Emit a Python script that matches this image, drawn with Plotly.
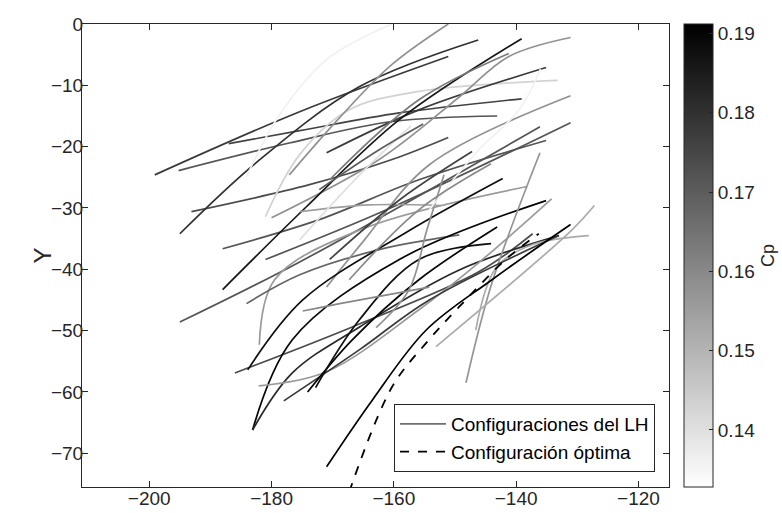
import plotly.graph_objects as go

# ---- data ----
curve_x = [
    [-199.1, -175.4, -151.1],
    [-195.2, -177.1, -160.3, -143.1],
    [-187.0, -175.4, -159.1, -139.1],
    [-193.1, -173.8, -160.3, -151.1],
    [-195.0, -182.5, -165.6, -146.2],
    [-184.1, -178.7, -171.0, -160.3],
    [-181.0, -175.4, -167.3, -155.9, -133.2],
    [-177.1, -168.9, -160.3, -151.1],
    [-171.0, -155.9, -135.1],
    [-188.0, -172.2, -155.9, -135.1],
    [-180.0, -162.4, -149.3, -141.2, -131.1],
    [-188.0, -174.3, -159.1, -139.1],
    [-181.0, -161.2, -131.1],
    [-195.0, -175.4, -136.1],
    [-182.0, -179.5, -165.6, -138.2],
    [-184.1, -175.4, -162.4, -149.3],
    [-171.0, -164.8, -154.2, -131.1],
    [-186.0, -166.8, -146.1, -137.3],
    [-183.9, -174.9, -158.0, -142.2],
    [-183.1, -176.6, -159.1, -135.1],
    [-183.1, -176.6, -165.6, -149.3, -133.0],
    [-182.1, -171.0, -155.9, -146.1, -134.2],
    [-148.2, -143.95, -136.1],
    [-146.6, -143.3, -137.4, -128.1],
    [-153.1, -130.9, -127.2],
    [-178.0, -165.6, -154.2, -133.0],
    [-174.1, -166.8, -155.9, -143.1],
    [-172.8, -165.6, -155.9, -144.1],
    [-171.0, -163.5, -154.7, -143.95, -131.1],
    [-174.9, -167.3, -154.2],
    [-162.9, -157.5, -154.6, -151.8],
    [-175.4, -164.0, -152.3],
    [-154.2, -146.1, -139.5, -136.0],
    [-170.5, -155.9, -141.2],
    [-175.4, -165.6, -157.2],
    [-172.2, -162.4, -155.2],
    [-170.5, -159.1, -147.2],
    [-167.3, -155.9, -144.1],
]
curve_y = [
    [-24.6, -14.3, -5.3],
    [-23.9, -19.4, -15.9, -15.0],
    [-19.5, -17.4, -14.5, -12.2],
    [-30.6, -26.2, -22.1, -18.5],
    [-34.2, -22.6, -10.2, -2.6],
    [-24.9, -14.8, -5.8, 0.0],
    [-31.4, -21.3, -14.0, -11.0, -9.2],
    [-24.6, -15.3, -6.6, 0.0],
    [-21.0, -14.0, -7.1],
    [-36.65, -31.9, -25.4, -19.0],
    [-31.6, -22.1, -11.9, -5.3, -2.2],
    [-43.3, -29.8, -15.6, -2.4],
    [-38.4, -30.3, -16.1],
    [-48.6, -38.8, -16.75],
    [-52.3, -41.7, -33.6, -26.5],
    [-45.6, -40.9, -36.8, -34.4],
    [-42.9, -35.2, -22.95, -11.7],
    [-56.9, -49.4, -40.4, -34.2],
    [-56.4, -45.0, -34.0, -25.2],
    [-66.2, -51.5, -38.4, -28.8],
    [-66.2, -56.9, -49.4, -40.1, -34.5],
    [-59.0, -56.7, -46.6, -38.9, -28.5],
    [-58.5, -42.2, -21.0],
    [-49.9, -39.8, -36.0, -34.5],
    [-52.6, -33.6, -29.6],
    [-61.45, -53.1, -45.0, -34.5],
    [-60.0, -51.5, -41.7, -33.1],
    [-59.3, -48.2, -38.4, -35.8],
    [-72.2, -61.3, -49.9, -41.7, -32.7],
    [-46.8, -45.3, -42.9],
    [-49.5, -43.3, -33.6, -24.6],
    [-30.6, -29.5, -29.6],
    [-30.3, -20.5, -14.0, -7.3],
    [-25.4, -12.35, -4.8],
    [-35.2, -24.6, -16.6],
    [-27.0, -20.5, -16.3],
    [-38.4, -28.7, -20.8],
    [-41.7, -30.3, -22.8],
]
cp_values = [
    0.178, 0.172, 0.176, 0.174, 0.180, 0.136, 0.143, 0.158, 0.178, 0.172,
    0.158, 0.186, 0.172, 0.172, 0.156, 0.168, 0.158, 0.174, 0.188, 0.190,
    0.182, 0.156, 0.157, 0.152, 0.152, 0.178, 0.190, 0.188, 0.191, 0.160,
    0.158, 0.155, 0.136, 0.163, 0.140, 0.170, 0.176, 0.160,
]
optimal_x = [-167.3, -160.3, -154.7, -149.3, -141.7, -136.3]
optimal_y = [-76.3, -59.2, -52.0, -46.1, -38.4, -34.2]

cp_min, cp_max = 0.1328, 0.1912
cb_ticks = [0.14, 0.15, 0.16, 0.17, 0.18, 0.19]
x_ticks = [-200, -180, -160, -140, -120]
y_ticks = [0, -10, -20, -30, -40, -50, -60, -70]

FONT = "Liberation Sans, Arial, sans-serif"
AX = "#262626"
PW = 587.0   # plot width in px
PH = 463.0   # plot height in px


def gray(cp):
    t = (cp - cp_min) / (cp_max - cp_min)
    t = min(max(t, 0.0), 1.0)
    v = int(round(255 * (1 - t)))
    return f"rgb({v},{v},{v})"


fig = go.Figure()
for xs, ys, cp in zip(curve_x, curve_y, cp_values):
    fig.add_trace(go.Scatter(x=xs, y=ys, mode="lines",
                             line=dict(color=gray(cp), width=1.7, shape="spline", smoothing=1.0),
                             showlegend=False, hoverinfo="skip"))

fig.add_trace(go.Scatter(x=optimal_x, y=optimal_y, mode="lines",
                         line=dict(color="black", width=1.8, dash="dash", shape="spline", smoothing=1.0),
                         showlegend=False, hoverinfo="skip"))

# legend entries
fig.add_trace(go.Scatter(x=[None], y=[None], mode="lines",
                         line=dict(color="#707070", width=1.8),
                         name="Configuraciones del LH"))
fig.add_trace(go.Scatter(x=[None], y=[None], mode="lines",
                         line=dict(color="black", width=1.8, dash="dash"),
                         name="Configuración óptima"))

# colorbar carrier
fig.add_trace(go.Scatter(
    x=[curve_x[0][0]], y=[curve_y[0][0]], mode="markers",
    marker=dict(size=0.1, opacity=0, color=[cp_min], cmin=cp_min, cmax=cp_max,
                colorscale=[[0, "rgb(255,255,255)"], [1, "rgb(0,0,0)"]],
                showscale=True,
                colorbar=dict(x=(684 - 82) / PW, xanchor="left", xref="paper",
                              xpad=0, ypad=0,
                              y=0.5, yanchor="middle", len=1.0, lenmode="fraction",
                              thickness=29, outlinecolor=AX, outlinewidth=1,
                              ticks="inside", ticklen=4, tickcolor=AX,
                              tickvals=cb_ticks, tickformat=".2f",
                              tickfont=dict(family=FONT, size=19, color=AX))),
    showlegend=False, hoverinfo="skip"))

axis_common = dict(showline=True, linecolor=AX, linewidth=1, mirror="ticks",
                   ticks="inside", ticklen=6, tickcolor=AX, showgrid=False,
                   zeroline=False, ticklabelstandoff=-6,
                   tickfont=dict(family=FONT, size=19, color=AX))

fig.update_layout(
    width=782, height=513,
    margin=dict(l=82, r=113, t=24, b=26, autoexpand=False),
    paper_bgcolor="white", plot_bgcolor="white",
    font=dict(family=FONT, color=AX),
    xaxis=dict(range=[-211, -115], tickvals=x_ticks, **axis_common),
    yaxis=dict(range=[-75.5, 0], tickvals=y_ticks, **axis_common),
    legend=dict(x=(655 - 82) / PW, xanchor="right", y=(487 - 472) / PH, yanchor="bottom",
                bgcolor="white", bordercolor=AX, borderwidth=1, itemwidth=46,
                font=dict(family=FONT, size=19, color="black"), tracegroupgap=0),
    showlegend=True,
    annotations=[
        dict(text="Y", x=(42 - 82) / PW, y=0.5, xref="paper", yref="paper",
             xanchor="center", yanchor="middle", textangle=-90, showarrow=False,
             font=dict(family=FONT, size=24, color=AX)),
        dict(text="Cp", x=(768 - 82) / PW, y=(487 - 256) / PH, xref="paper", yref="paper",
             xanchor="center", yanchor="middle", textangle=-90, showarrow=False,
             font=dict(family=FONT, size=18, color=AX)),
    ],
)

fig.write_html("out.html")
